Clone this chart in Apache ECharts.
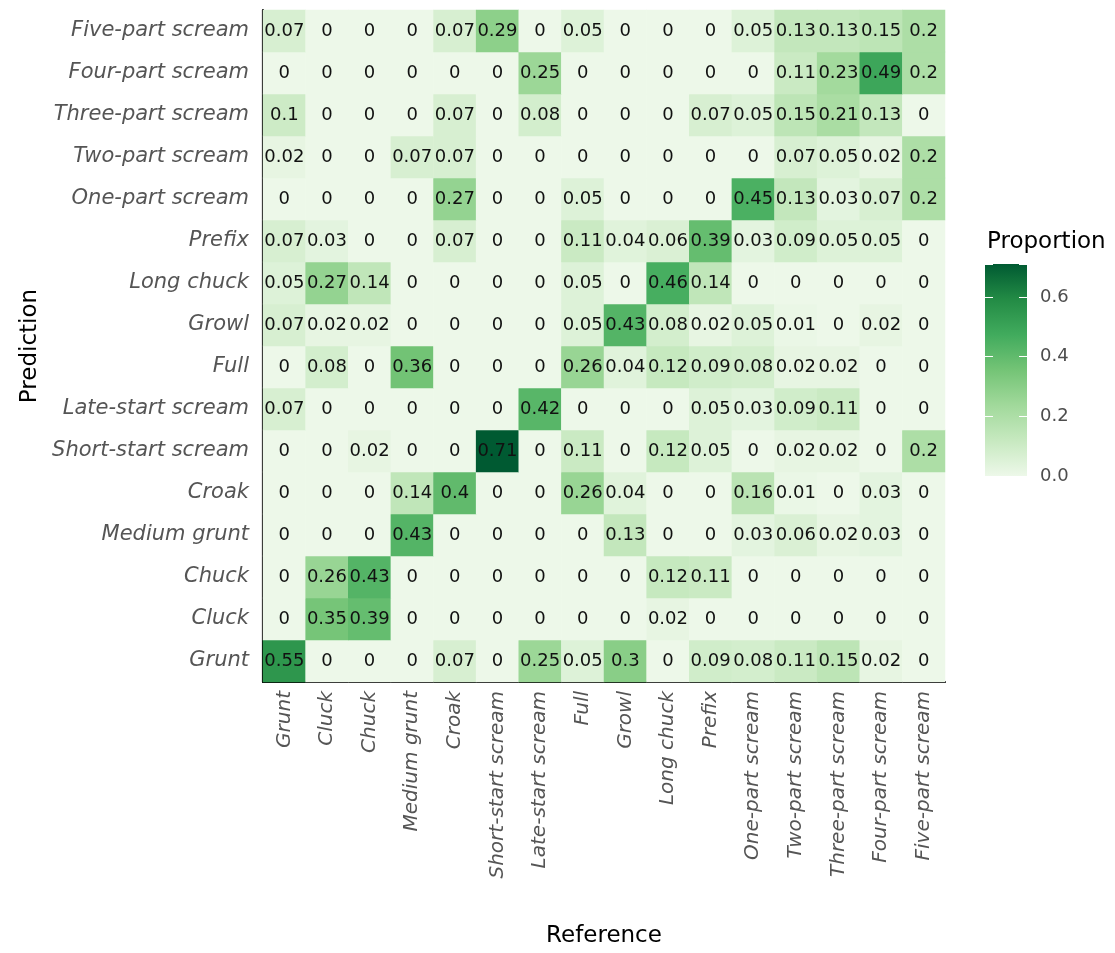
<!DOCTYPE html>
<html>
<head>
<meta charset="utf-8">
<title>Call type confusion matrix</title>
<script src="https://cdn.jsdelivr.net/npm/echarts@6/dist/echarts.min.js"></script>
<style>
  html, body { margin: 0; padding: 0; background: #ffffff; }
  #chart { width: 1115px; height: 953px; }
</style>
</head>
<body>
<div id="chart"></div>
<script>
// Call types, shared by both axes (bottom-to-top on the prediction axis)
const callTypes = [
  'Grunt', 'Cluck', 'Chuck', 'Medium grunt', 'Croak', 'Short-start scream',
  'Late-start scream', 'Full', 'Growl', 'Long chuck', 'Prefix',
  'One-part scream', 'Two-part scream', 'Three-part scream',
  'Four-part scream', 'Five-part scream'
];

// Proportions: one row per predicted type (same order as callTypes),
// one column per reference type.
const proportions = [
  /* Grunt */              [0.55, 0, 0, 0, 0.07, 0, 0.25, 0.05, 0.3, 0, 0.09, 0.08, 0.11, 0.15, 0.02, 0],
  /* Cluck */              [0, 0.35, 0.39, 0, 0, 0, 0, 0, 0, 0.02, 0, 0, 0, 0, 0, 0],
  /* Chuck */              [0, 0.26, 0.43, 0, 0, 0, 0, 0, 0, 0.12, 0.11, 0, 0, 0, 0, 0],
  /* Medium grunt */       [0, 0, 0, 0.43, 0, 0, 0, 0, 0.13, 0, 0, 0.03, 0.06, 0.02, 0.03, 0],
  /* Croak */              [0, 0, 0, 0.14, 0.4, 0, 0, 0.26, 0.04, 0, 0, 0.16, 0.01, 0, 0.03, 0],
  /* Short-start scream */ [0, 0, 0.02, 0, 0, 0.71, 0, 0.11, 0, 0.12, 0.05, 0, 0.02, 0.02, 0, 0.2],
  /* Late-start scream */  [0.07, 0, 0, 0, 0, 0, 0.42, 0, 0, 0, 0.05, 0.03, 0.09, 0.11, 0, 0],
  /* Full */               [0, 0.08, 0, 0.36, 0, 0, 0, 0.26, 0.04, 0.12, 0.09, 0.08, 0.02, 0.02, 0, 0],
  /* Growl */              [0.07, 0.02, 0.02, 0, 0, 0, 0, 0.05, 0.43, 0.08, 0.02, 0.05, 0.01, 0, 0.02, 0],
  /* Long chuck */         [0.05, 0.27, 0.14, 0, 0, 0, 0, 0.05, 0, 0.46, 0.14, 0, 0, 0, 0, 0],
  /* Prefix */             [0.07, 0.03, 0, 0, 0.07, 0, 0, 0.11, 0.04, 0.06, 0.39, 0.03, 0.09, 0.05, 0.05, 0],
  /* One-part scream */    [0, 0, 0, 0, 0.27, 0, 0, 0.05, 0, 0, 0, 0.45, 0.13, 0.03, 0.07, 0.2],
  /* Two-part scream */    [0.02, 0, 0, 0.07, 0.07, 0, 0, 0, 0, 0, 0, 0, 0.07, 0.05, 0.02, 0.2],
  /* Three-part scream */  [0.1, 0, 0, 0, 0.07, 0, 0.08, 0, 0, 0, 0.07, 0.05, 0.15, 0.21, 0.13, 0],
  /* Four-part scream */   [0, 0, 0, 0, 0, 0, 0.25, 0, 0, 0, 0, 0, 0.11, 0.23, 0.49, 0.2],
  /* Five-part scream */   [0.07, 0, 0, 0, 0.07, 0.29, 0, 0.05, 0, 0, 0, 0.05, 0.13, 0.13, 0.15, 0.2]
];

// Colour-bar tick values
const legendTicks = [0, 0.2, 0.4, 0.6];

// Sequential green palette (low -> high)
const greens = ['#edf8e9', '#c7e9c0', '#a1d99b', '#74c476', '#41ab5d', '#238b45', '#005a32'];

const FONT = 'DejaVu Sans';

const cells = [];
proportions.forEach((row, yi) => row.forEach((v, xi) => cells.push([xi, yi, v])));
const maxVal = Math.max(...proportions.flat());

const gradientStops = greens.map((c, i) => ({ offset: i / (greens.length - 1), color: c }));

const chart = echarts.init(document.getElementById('chart'), null, { renderer: 'canvas' });

chart.setOption({
  animation: false,
  backgroundColor: '#ffffff',
  title: {
    text: 'Proportion',
    left: 982,
    top: 226,
    textStyle: { fontFamily: FONT, fontSize: 23, fontWeight: 'normal', color: '#000000' }
  },
  grid: [
    { left: 263, top: 10, width: 682, height: 678 },
    { left: 985, top: 264, width: 42, height: 212 }
  ],
  xAxis: [
    {
      type: 'category', gridIndex: 0, data: callTypes,
      name: 'Reference', nameLocation: 'middle', nameGap: 243,
      nameTextStyle: { fontFamily: FONT, fontSize: 23, color: '#000000' },
      axisLine: { lineStyle: { color: '#000000', width: 2.2 } },
      axisTick: { alignWithLabel: true, length: 5, lineStyle: { color: '#333333', width: 1.4 } },
      axisLabel: {
        interval: 0, rotate: 90, margin: 9,
        fontFamily: FONT, fontStyle: 'italic', fontSize: 20, color: '#555555'
      },
      splitLine: { show: false }
    },
    {
      type: 'category', gridIndex: 1, data: ['bar'], show: false
    }
  ],
  yAxis: [
    {
      type: 'category', gridIndex: 0, data: callTypes,
      name: 'Prediction', nameLocation: 'middle', nameGap: 220,
      nameTextStyle: { fontFamily: FONT, fontSize: 23, color: '#000000' },
      axisLine: { lineStyle: { color: '#000000', width: 2.2 } },
      axisTick: { alignWithLabel: true, length: 5, lineStyle: { color: '#333333', width: 1.4 } },
      axisLabel: {
        interval: 0, margin: 14,
        fontFamily: FONT, fontStyle: 'italic', fontSize: 21, color: '#555555'
      },
      splitLine: { show: false }
    },
    {
      type: 'value', gridIndex: 1, position: 'right', min: 0, max: maxVal, interval: 0.2,
      z: 10,
      axisLine: { show: false },
      axisTick: { show: true, inside: true, length: 8, lineStyle: { color: '#ffffff', width: 1 } },
      axisLabel: {
        margin: 13, fontFamily: FONT, fontSize: 18, color: '#4d4d4d',
        formatter: v => (legendTicks.some(t => Math.abs(t - v) < 1e-9) ? v.toFixed(1) : '')
      },
      splitLine: { show: false }
    },
    {
      type: 'value', gridIndex: 1, position: 'left', min: 0, max: maxVal, interval: 0.2,
      z: 10,
      axisLine: { show: false },
      axisTick: { show: true, inside: true, length: 8, lineStyle: { color: '#ffffff', width: 1 } },
      axisLabel: { show: false },
      splitLine: { show: false }
    }
  ],
  visualMap: {
    show: false,
    type: 'continuous',
    seriesIndex: 0,
    min: 0,
    max: maxVal,
    inRange: { color: greens }
  },
  series: [
    {
      type: 'heatmap',
      xAxisIndex: 0, yAxisIndex: 0,
      data: cells,
      label: {
        show: true,
        fontFamily: FONT, fontSize: 18, color: '#111111',
        formatter: p => String(p.value[2])
      },
      itemStyle: { borderWidth: 0 },
      emphasis: { disabled: true }
    },
    {
      // colour bar: one bar spanning the full data range
      type: 'bar',
      xAxisIndex: 1, yAxisIndex: 1,
      data: [maxVal],
      barWidth: '100%',
      silent: true,
      itemStyle: {
        color: new echarts.graphic.LinearGradient(0, 1, 0, 0, gradientStops)
      }
    }
  ]
});
</script>
</body>
</html>
